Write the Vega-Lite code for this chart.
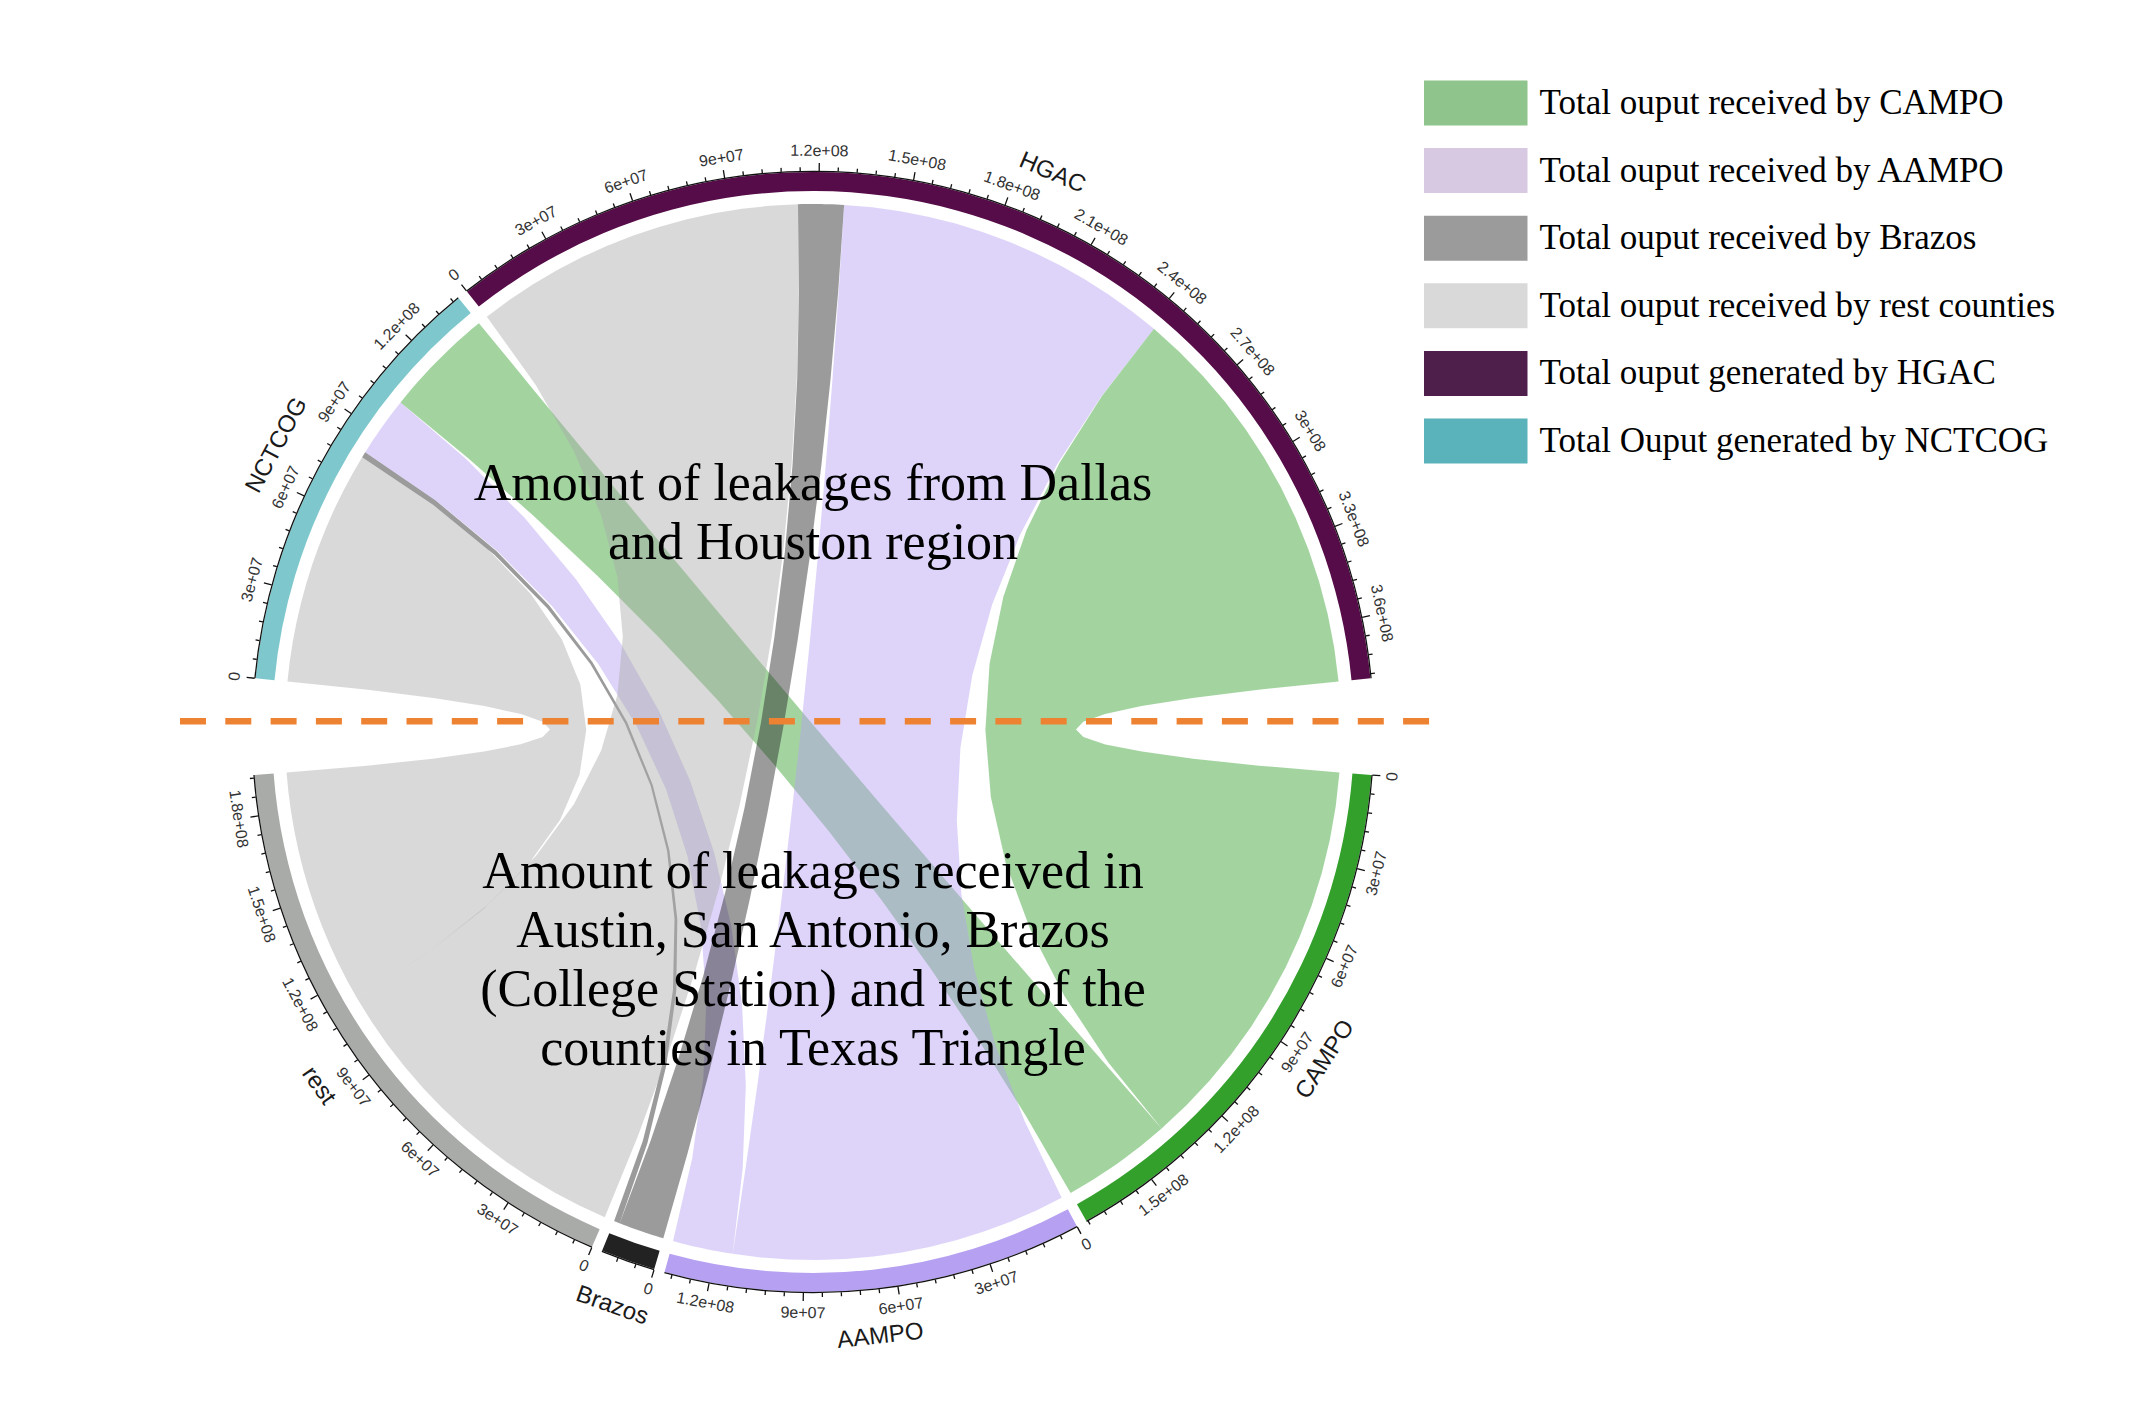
{
  "$schema": "https://vega.github.io/schema/vega-lite/v6.json",
  "width": 1340,
  "height": 1340,
  "autosize": {"type": "none"},
  "padding": {"left": 143, "top": 62, "right": 672, "bottom": 3},
  "background": "white",
  "config": {"view": {"stroke": null}},
  "title": {
    "text": ["Amount of leakages from Dallas", "and Houston region"],
    "subtitle": ["Amount of leakages received in", "Austin, San Antonio, Brazos", "(College Station) and rest of the", "counties in Texas Triangle"],
    "font": "Liberation Serif",
    "fontSize": 52,
    "fontWeight": "normal",
    "color": "black",
    "subtitleFont": "Liberation Serif",
    "subtitleFontSize": 52,
    "subtitleFontWeight": "normal",
    "subtitleColor": "black",
    "lineHeight": 59,
    "subtitleLineHeight": 59,
    "subtitlePadding": 277,
    "anchor": "middle",
    "frame": "group",
    "offset": -1014
  },
  "datasets": {
    "flows": [
      {"src": "NCTCOG", "tgt": "rest", "v": 80000000},
      {"src": "NCTCOG", "tgt": "Brazos", "v": 2000000},
      {"src": "NCTCOG", "tgt": "AAMPO", "v": 20500000},
      {"src": "NCTCOG", "tgt": "CAMPO", "v": 37500000},
      {"src": "HGAC", "tgt": "rest", "v": 113000000},
      {"src": "HGAC", "tgt": "Brazos", "v": 15500000},
      {"src": "HGAC", "tgt": "AAMPO", "v": 114000000},
      {"src": "HGAC", "tgt": "CAMPO", "v": 137000000}
    ]
  },
  "layer": [
    {
      "data": {"name": "flows"},
      "transform": [
        {"calculate": "indexof(['NCTCOG','HGAC'], datum.src)", "as": "sr"},
        {"calculate": "indexof(['CAMPO','AAMPO','Brazos','rest'], datum.tgt)", "as": "tr"},
        {"window": [{"op": "sum", "field": "v", "as": "sc"}], "sort": [{"field": "sr"}, {"field": "tr", "order": "descending"}], "frame": [null, 0]},
        {"window": [{"op": "sum", "field": "v", "as": "tc"}], "sort": [{"field": "tr"}, {"field": "sr", "order": "descending"}], "frame": [null, 0]},
        {"calculate": "-84.5 + 1.1*datum.sr + 3.232e-7*(datum.sc - datum.v)", "as": "a0"},
        {"calculate": "-84.5 + 1.1*datum.sr + 3.232e-7*datum.sc", "as": "a1"},
        {"calculate": "94.4 + 1.1*datum.tr + 3.232e-7*(datum.tc - datum.v)", "as": "b0"},
        {"calculate": "94.4 + 1.1*datum.tr + 3.232e-7*datum.tc", "as": "b1"},
        {"calculate": "[0,1,2,3,4,5,6,7,8,9,10,11,12,13,14,15,16,17,18,19,20,21,22,23,24,25,26,27,28,29,30,31,32,33,34,35,36,37,38,39,40,41,42,43,44,45,46,47]", "as": "j"},
        {"flatten": ["j"]},
        {"calculate": "floor(datum.j/12)", "as": "seg"},
        {"calculate": "(datum.j%12)/12", "as": "t"},
        {"calculate": "[datum.a0, datum.a1, datum.b0, datum.b1][datum.seg]", "as": "thA"},
        {"calculate": "[datum.a1, datum.b0, datum.b1, datum.a0][datum.seg]", "as": "thB"},
        {"calculate": "datum.seg%2==0 ? 528*sin(PI/180*(datum.thA+(datum.thB-datum.thA)*datum.t)) : 528*(pow(1-datum.t,2)*sin(PI/180*datum.thA)+pow(datum.t,2)*sin(PI/180*datum.thB))", "as": "x"},
        {"calculate": "datum.seg%2==0 ? 528*cos(PI/180*(datum.thA+(datum.thB-datum.thA)*datum.t)) : 528*(pow(1-datum.t,2)*cos(PI/180*datum.thA)+pow(datum.t,2)*cos(PI/180*datum.thB))", "as": "y"}
      ],
      "mark": {"type": "line", "interpolate": "linear-closed", "fillOpacity": 0.45, "strokeWidth": 0, "strokeOpacity": 0},
      "encoding": {
        "x": {"field": "x", "type": "quantitative", "scale": {"domain": [-670, 670], "nice": false, "zero": false}, "axis": null},
        "y": {"field": "y", "type": "quantitative", "scale": {"domain": [-670, 670], "nice": false, "zero": false}, "axis": null},
        "fill": {"field": "tgt", "type": "nominal", "scale": {"domain": ["NCTCOG", "HGAC", "CAMPO", "AAMPO", "Brazos", "rest"], "range": ["#7ec8cd", "#560c48", "#33a02c", "#b6a0f2", "#222222", "#a9aba8"]}, "legend": null},
        "detail": {"field": "src", "type": "nominal"},
        "order": {"field": "j", "type": "quantitative"}
      }
    },
    {
      "data": {"name": "flows"},
      "transform": [
        {"fold": ["src", "tgt"], "as": ["side", "node"]},
        {"aggregate": [{"op": "sum", "field": "v", "as": "tot"}], "groupby": ["side", "node"]},
        {"calculate": "datum.side=='src' ? indexof(['NCTCOG','HGAC'], datum.node) : indexof(['CAMPO','AAMPO','Brazos','rest'], datum.node)", "as": "r"},
        {"window": [{"op": "sum", "field": "tot", "as": "cum"}], "groupby": ["side"], "sort": [{"field": "r"}], "frame": [null, 0]},
        {"calculate": "(datum.side=='src' ? -84.5 : 94.4) + 1.1*datum.r + 3.232e-7*datum.cum", "as": "e"},
        {"calculate": "datum.e - 3.232e-7*datum.tot", "as": "s"}
      ],
      "layer": [
        {
          "mark": {"type": "arc", "outerRadius": 560, "innerRadius": 541},
          "encoding": {
            "theta": {"field": "s", "type": "quantitative", "scale": {"domain": [0, 360], "range": [0, 6.283185307179586]}, "stack": null},
            "theta2": {"field": "e"},
            "fill": {"field": "node", "type": "nominal", "scale": {"domain": ["NCTCOG", "HGAC", "CAMPO", "AAMPO", "Brazos", "rest"], "range": ["#7ec8cd", "#560c48", "#33a02c", "#b6a0f2", "#222222", "#a9aba8"]}, "legend": null}
          }
        },
        {
          "mark": {"type": "arc", "outerRadius": 561.3, "innerRadius": 560, "fill": "#111111"},
          "encoding": {
            "theta": {"field": "s", "type": "quantitative", "scale": {"domain": [0, 360], "range": [0, 6.283185307179586]}, "stack": null},
            "theta2": {"field": "e"}
          }
        },
        {
          "transform": [
            {"calculate": "[0,1,2,3,4,5,6,7,8,9,10,11,12,13,14,15,16,17,18,19,20,21,22,23,24,25,26,27,28,29,30,31,32,33,34,35,36,37,38,39,40,41,42,43,44,45,46,47,48,49,50,51,52,53,54,55,56,57,58,59,60,61,62,63,64]", "as": "tk"},
            {"flatten": ["tk"]},
            {"filter": "datum.tk*6e6 <= datum.tot"},
            {"calculate": "datum.s + 3.232e-7*6e6*datum.tk", "as": "ang"},
            {"calculate": "datum.tk%5==0 ? 569 : 565", "as": "r2"},
            {"calculate": "561*sin(PI/180*datum.ang)", "as": "x"},
            {"calculate": "561*cos(PI/180*datum.ang)", "as": "y"},
            {"calculate": "datum.r2*sin(PI/180*datum.ang)", "as": "x2"},
            {"calculate": "datum.r2*cos(PI/180*datum.ang)", "as": "y2"}
          ],
          "mark": {"type": "rule", "color": "#111111", "strokeWidth": 1.3},
          "encoding": {
            "x": {"field": "x", "type": "quantitative", "scale": {"domain": [-670, 670], "nice": false, "zero": false}, "axis": null},
            "y": {"field": "y", "type": "quantitative", "scale": {"domain": [-670, 670], "nice": false, "zero": false}, "axis": null},
            "x2": {"field": "x2"},
            "y2": {"field": "y2"}
          }
        },
        {
          "transform": [
            {"calculate": "[0,1,2,3,4,5,6,7,8,9,10,11,12,13,14,15,16,17,18,19,20,21,22,23,24,25,26,27,28,29,30,31,32,33,34,35,36,37,38,39,40,41,42,43,44,45,46,47,48,49,50,51,52,53,54,55,56,57,58,59,60,61,62,63,64]", "as": "tk"},
            {"flatten": ["tk"]},
            {"filter": "datum.tk*6e6 <= datum.tot && datum.tk%5==0"},
            {"calculate": "datum.s + 3.232e-7*6e6*datum.tk", "as": "ang"},
            {"calculate": "datum.tk*6e6", "as": "val"},
            {"calculate": "datum.tk==0 ? '0' : format(datum.val/pow(10, floor(log(datum.val)/LN10+1e-9)), '.2~g') + 'e+0' + floor(log(datum.val)/LN10+1e-9)", "as": "lab"},
            {"calculate": "581*sin(PI/180*datum.ang)", "as": "x"},
            {"calculate": "581*cos(PI/180*datum.ang)", "as": "y"},
            {"calculate": "datum.side=='src' ? datum.ang : datum.ang-180", "as": "rot"}
          ],
          "mark": {"type": "text", "font": "Liberation Sans", "fontSize": 16, "color": "#333333", "align": "center", "baseline": "middle"},
          "encoding": {
            "x": {"field": "x", "type": "quantitative", "scale": {"domain": [-670, 670], "nice": false, "zero": false}, "axis": null},
            "y": {"field": "y", "type": "quantitative", "scale": {"domain": [-670, 670], "nice": false, "zero": false}, "axis": null},
            "text": {"field": "lab", "type": "nominal"},
            "angle": {"field": "rot", "type": "quantitative", "scale": null}
          }
        },
        {
          "transform": [
            {"calculate": "(datum.s + datum.e)/2", "as": "mid"},
            {"calculate": "608*sin(PI/180*datum.mid)", "as": "x"},
            {"calculate": "608*cos(PI/180*datum.mid)", "as": "y"},
            {"calculate": "datum.side=='src' ? datum.mid : datum.mid-180", "as": "rot"}
          ],
          "mark": {"type": "text", "font": "Liberation Sans", "fontSize": 24, "color": "#1a1a1a", "align": "center", "baseline": "middle"},
          "encoding": {
            "x": {"field": "x", "type": "quantitative", "scale": {"domain": [-670, 670], "nice": false, "zero": false}, "axis": null},
            "y": {"field": "y", "type": "quantitative", "scale": {"domain": [-670, 670], "nice": false, "zero": false}, "axis": null},
            "text": {"field": "node", "type": "nominal"},
            "angle": {"field": "rot", "type": "quantitative", "scale": null}
          }
        },
        {
          "transform": [
            {"calculate": "{'CAMPO':'Total ouput received by CAMPO','AAMPO':'Total ouput received by AAMPO','Brazos':'Total ouput received by Brazos','rest':'Total ouput received by rest counties','HGAC':'Total ouput generated by HGAC','NCTCOG':'Total Ouput generated by NCTCOG'}[datum.node]", "as": "lab"}
          ],
          "mark": {"type": "point", "filled": true, "opacity": 0, "size": 0},
          "encoding": {
            "color": {
              "field": "lab",
              "type": "nominal",
              "scale": {
                "domain": ["Total ouput received by CAMPO", "Total ouput received by AAMPO", "Total ouput received by Brazos", "Total ouput received by rest counties", "Total ouput generated by HGAC", "Total Ouput generated by NCTCOG"],
                "range": ["#8fc48c", "#d7c9e2", "#9b9b9b", "#d9d9d9", "#4f1f4b", "#5ab2ba"]
              },
              "legend": {
                "title": null,
                "orient": "none",
                "legendX": 1281,
                "legendY": 18.5,
                "symbolType": "M-1,-1H3.6V1H-1Z",
                "symbolSize": 2025,
                "symbolStrokeWidth": 0,
                "symbolOpacity": 1,
                "labelFont": "Liberation Serif",
                "labelFontSize": 35,
                "labelColor": "black",
                "labelOffset": 70.5,
                "labelLimit": 1000,
                "rowPadding": 22.6,
                "padding": 0
              }
            }
          }
        }
      ]
    },
    {
      "data": {"values": [{}]},
      "mark": {"type": "rule", "color": "#ee8233", "strokeWidth": 6.5, "strokeDash": [26, 19.3]},
      "encoding": {
        "x": {"datum": -633, "type": "quantitative", "scale": {"domain": [-670, 670], "nice": false, "zero": false}, "axis": null},
        "x2": {"datum": 624},
        "y": {"datum": 10.7, "type": "quantitative", "scale": {"domain": [-670, 670], "nice": false, "zero": false}, "axis": null}
      }
    }
  ]
}
